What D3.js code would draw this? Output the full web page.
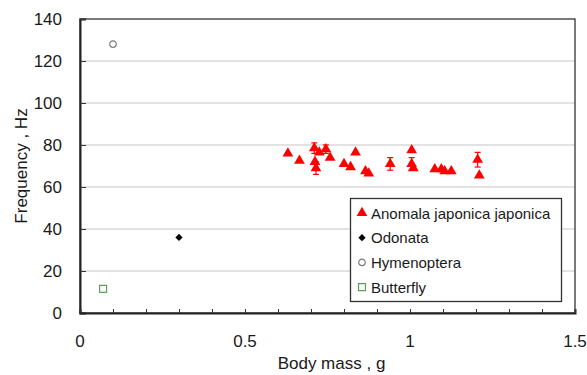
<!DOCTYPE html>
<html>
<head>
<meta charset="utf-8">
<script src="https://cdn.jsdelivr.net/npm/d3@7"></script>
<style>
  body { margin: 0; background: #fff; }
  text { font-family: "Liberation Sans", Arial, sans-serif; fill: #1a1a1a; }
</style>
</head>
<body>
<svg id="chart"></svg>
<script>
"use strict";

let width = 587;
let height = 375;

// Anomala japonica japonica (body mass g, frequency Hz, error bar half-length)
let anomalaMass = [0.63, 0.665, 0.71, 0.725, 0.712, 0.715, 0.745, 0.758, 0.80, 0.82, 0.835, 0.865, 0.875,
                   0.94, 1.005, 1.005, 1.01, 1.075, 1.095, 1.105, 1.125, 1.205, 1.21];
let anomalaFreq = [76, 72.5, 78.5, 76.5, 72, 69, 78, 74, 71, 69.5, 76.5, 67.5, 66.5,
                   71, 77.5, 71, 69, 68.5, 68.5, 67.5, 67.5, 73, 65.5];
let anomalaErr  = [0, 0, 2.5, 0, 0, 3, 2, 0, 0, 0, 0, 0, 0,
                   3, 0, 3, 0, 0, 0, 0, 0, 3.5, 0];

let odonataMass = [0.30];
let odonataFreq = [36];
let hymenopteraMass = [0.10];
let hymenopteraFreq = [128];
let butterflyMass = [0.07];
let butterflyFreq = [11.5];

let xTicks = [0, 0.5, 1, 1.5];
let yTicks = [0, 20, 40, 60, 80, 100, 120, 140];
let legendLabels = ["Anomala japonica japonica", "Odonata", "Hymenoptera", "Butterfly"];

let margin = {left: 80, right: 12, top: 19, bottom: 62};

let svg = d3.select('#chart').attr('width', width).attr('height', height);

let x = d3.scaleLinear().domain([0, 1.5]).range([margin.left, width - margin.right]);
let y = d3.scaleLinear().domain([0, 140]).range([height - margin.bottom, margin.top]);

// gridlines
svg.append('g').selectAll('line')
  .data(yTicks.slice(1, -1))
  .enter().append('line')
    .attr('x1', x(0)).attr('x2', x(1.5))
    .attr('y1', d => y(d)).attr('y2', d => y(d))
    .style('stroke', '#d9d9d9')
    .style('stroke-width', 1.5);

// plot box
svg.append('rect')
  .attr('x', x(0)).attr('y', y(140))
  .attr('width', x(1.5) - x(0)).attr('height', y(0) - y(140))
  .style('fill', 'none')
  .style('stroke', '#333')
  .style('stroke-width', 1.3);

// Y axis (ticks inside)
let yAxis = svg.append('g')
  .attr('transform', `translate(${x(0)},0)`)
  .call(d3.axisRight(y).tickValues(yTicks).tickSize(6).tickFormat(''));
yAxis.select('.domain').style('stroke', '#222').style('stroke-width', 2);
yAxis.selectAll('.tick line').style('stroke', '#333');

svg.append('g').selectAll('text')
  .data(yTicks)
  .enter().append('text')
    .attr('x', 62)
    .attr('y', d => y(d) + 6)
    .attr('text-anchor', 'end')
    .style('font-size', '17px')
    .text(d => d);

// X axis (minor ticks every 0.1, inside)
let xAxis = svg.append('g')
  .attr('transform', `translate(0,${y(0)})`)
  .call(d3.axisTop(x).tickValues(d3.range(0, 1.51, 0.1)).tickSize(4).tickFormat(''));
xAxis.select('.domain').style('stroke', '#222').style('stroke-width', 2);
xAxis.selectAll('.tick line').style('stroke', '#333');

svg.append('g').selectAll('text')
  .data(xTicks)
  .enter().append('text')
    .attr('x', d => x(d))
    .attr('y', y(0) + 34)
    .attr('text-anchor', 'middle')
    .style('font-size', '17px')
    .text(d => d);

// axis titles
svg.append('text')
  .attr('x', (x(0) + x(1.5)) / 2 + 4)
  .attr('y', height - 6)
  .attr('text-anchor', 'middle')
  .style('font-size', '17px')
  .text('Body mass , g');

svg.append('text')
  .attr('transform', `translate(27,${(y(0) + y(140)) / 2}) rotate(-90)`)
  .attr('text-anchor', 'middle')
  .style('font-size', '17px')
  .text('Frequency , Hz');

// error bars
let anomala = anomalaMass.map((m, i) => ({m: m, f: anomalaFreq[i], e: anomalaErr[i]}));
let bars = svg.append('g').selectAll('g')
  .data(anomala.filter(d => d.e > 0))
  .enter().append('g')
    .style('stroke', '#ff0000')
    .style('stroke-width', 1.2);
bars.append('line')
  .attr('x1', d => x(d.m)).attr('x2', d => x(d.m))
  .attr('y1', d => y(d.f - d.e)).attr('y2', d => y(d.f + d.e));
bars.append('line')
  .attr('x1', d => x(d.m) - 3).attr('x2', d => x(d.m) + 3)
  .attr('y1', d => y(d.f + d.e)).attr('y2', d => y(d.f + d.e));
bars.append('line')
  .attr('x1', d => x(d.m) - 3).attr('x2', d => x(d.m) + 3)
  .attr('y1', d => y(d.f - d.e)).attr('y2', d => y(d.f - d.e));

// markers
let tri = d3.symbol().type(d3.symbolTriangle).size(50);
let dia = d3.symbol().type(d3.symbolSquare).size(26);
let circ = d3.symbol().type(d3.symbolCircle).size(34);
let sq = d3.symbol().type(d3.symbolSquare).size(48);

function drawMarkers(mass, freq, sym, fill, stroke, rot) {
  svg.append('g').selectAll('path')
    .data(mass.map((m, i) => [m, freq[i]]))
    .enter().append('path')
      .attr('d', sym)
      .attr('transform', d => `translate(${x(d[0])},${y(d[1])}) rotate(${rot || 0})`)
      .style('fill', fill)
      .style('stroke', stroke)
      .style('stroke-width', 1.2);
}

drawMarkers(anomalaMass, anomalaFreq, tri, '#ff0000', 'none');
drawMarkers(odonataMass, odonataFreq, dia, '#000', 'none', 45);
drawMarkers(hymenopteraMass, hymenopteraFreq, circ, '#fff', '#777');
drawMarkers(butterflyMass, butterflyFreq, sq, '#fff', '#5c9e5c');

// legend
let legend = svg.append('g');
legend.append('rect')
  .attr('x', 350.5).attr('y', 198.5)
  .attr('width', 211).attr('height', 103)
  .style('fill', '#fff')
  .style('stroke', '#333')
  .style('stroke-width', 1.3);

let legendSyms = [
  {sym: tri, fill: '#ff0000', stroke: 'none', rot: 0},
  {sym: dia, fill: '#000', stroke: 'none', rot: 45},
  {sym: circ, fill: '#fff', stroke: '#777', rot: 0},
  {sym: sq, fill: '#fff', stroke: '#5c9e5c', rot: 0}
];

legendLabels.forEach((label, i) => {
  let ly = 213 + i * 24.7;
  legend.append('path')
    .attr('d', legendSyms[i].sym)
    .attr('transform', `translate(362,${ly}) rotate(${legendSyms[i].rot})`)
    .style('fill', legendSyms[i].fill)
    .style('stroke', legendSyms[i].stroke)
    .style('stroke-width', 1.2);
  legend.append('text')
    .attr('x', 371)
    .attr('y', ly + 5.5)
    .style('font-size', '15px')
    .text(label);
});
</script>
</body>
</html>
